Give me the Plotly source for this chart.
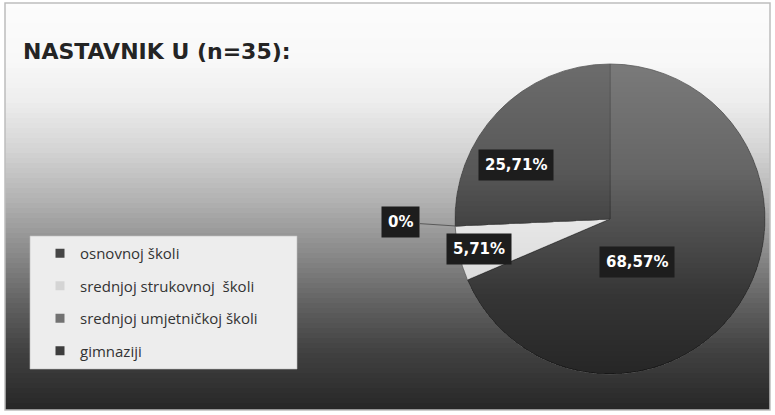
import numpy as np
import plotly.graph_objects as go

# ---------------- data ----------------
categories = ["osnovnoj školi", "srednjoj strukovnoj  školi",
              "srednjoj umjetničkoj školi", "gimnaziji"]
counts = [24, 2, 0, 9]          # n = 35
title_text = "NASTAVNIK U (n=35):"

# ---------------- style ----------------
slice_colors = ["#7a7a7a", "#f0f0f0", "#8a8a8a", "#6c6c6c"]
legend_colors = ["#454545", "#d4d4d4", "#727272", "#3d3d3d"]
shade_scale = [1.0, 0.18, 1.0, 1.0]       # darkening toward the bottom of the pie
shade_t = [0.0, 0.35, 0.75, 1.0]
shade_a = [0.0, 0.17, 0.50, 0.58]
label_rfrac = [0.50, 0.87, 1.35, 0.50]     # label distance (fraction of radius)

W, H = 775, 415
cx, cy, R = 610, 219, 155                  # pie centre / radius in pixels
FONT = "Open Sans"
BOLD_FONT = "DejaVu Sans"


def to_paper(x, y):
    return x / W, 1 - y / H


fig = go.Figure()

fig.add_trace(go.Pie(
    labels=categories, values=counts, sort=False, direction="clockwise",
    rotation=0, textinfo="none", showlegend=False,
    marker=dict(colors=slice_colors, line=dict(color="#5c5c5c", width=0.8)),
    domain=dict(x=[(cx - R) / W, (cx + R) / W],
                y=[1 - (cy + R) / H, 1 - (cy - R) / H]),
    hoverinfo="label+percent",
))

# legend entries (one group each so that the group gap gives the spacing)
for name, col in zip(categories, legend_colors):
    fig.add_trace(go.Scatter(
        x=[None], y=[None], mode="markers", name=name, legendgroup=name,
        marker=dict(symbol="square", size=9, color=col),
        hoverinfo="skip"))

shapes = []

# background gradient inside the frame
stops_y = [0, 60, 100, 150, 200, 250, 300, 350, 415]
stops_v = [252, 248, 238, 212, 178, 140, 100, 66, 36]
fx0, fy0, fx1, fy1 = 5, 3, 770, 410
step = 5
for y in range(fy0, fy1, step):
    v = int(round(np.interp(y + step / 2, stops_y, stops_v)))
    xa, ya = to_paper(fx0, y)
    xb, yb = to_paper(fx1, min(y + step + 0.5, fy1))
    shapes.append(dict(type="rect", xref="paper", yref="paper", layer="below",
                       x0=xa, x1=xb, y0=ya, y1=yb, line=dict(width=0),
                       fillcolor=f"rgb({v},{v},{v})"))
# frame
xa, ya = to_paper(fx0, fy0)
xb, yb = to_paper(fx1, fy1)
shapes.append(dict(type="rect", xref="paper", yref="paper", layer="below",
                   x0=xa, x1=xb, y0=ya, y1=yb,
                   line=dict(color="#bdbdbd", width=1.5), fillcolor="rgba(0,0,0,0)"))
# legend box
xa, ya = to_paper(30, 236)
xb, yb = to_paper(297, 369)
shapes.append(dict(type="rect", xref="paper", yref="paper", layer="below",
                   x0=xa, x1=xb, y0=ya, y1=yb,
                   line=dict(color="rgba(190,190,190,0.6)", width=1),
                   fillcolor="#ededed"))

# slice geometry derived from the data
total = float(sum(counts))
fracs = [c / total for c in counts]
starts = np.concatenate([[0.0], np.cumsum(fracs)[:-1]]) * 360.0
ends = starts + np.array(fracs) * 360.0


def pt(angle_deg, r):
    a = np.radians(angle_deg)
    return cx + r * np.sin(a), cy - r * np.cos(a)


def clip(poly, yv):
    """keep the part of poly with y >= yv"""
    out = []
    n = len(poly)
    for i in range(n):
        P, Q = poly[i], poly[(i + 1) % n]
        inP, inQ = P[1] >= yv, Q[1] >= yv
        if inP:
            out.append(P)
        if inP != inQ:
            t = (yv - P[1]) / (Q[1] - P[1])
            out.append((P[0] + t * (Q[0] - P[0]), yv))
    return out


# vertical shading over each slice: stacked layers from a given height down
nb = 60
for i in range(len(counts)):
    if fracs[i] <= 0:
        continue
    nseg = max(2, int((ends[i] - starts[i]) / 1.0))
    arc = [pt(a, R) for a in np.linspace(starts[i], ends[i], nseg + 1)]
    poly = [(cx, cy)] + arc
    prev = 0.0
    for b in range(1, nb + 1):
        ytop = cy - R + 2 * R * (b - 0.5) / nb
        target = shade_scale[i] * float(np.interp(b / nb, shade_t, shade_a))
        d = 1 - (1 - target) / (1 - prev)
        prev = target
        p = clip(poly, ytop)
        if len(p) < 3 or d <= 0:
            continue
        path = "M " + " L ".join(
            "{:.5f},{:.5f}".format(*to_paper(x, y)) for x, y in p) + " Z"
        shapes.append(dict(type="path", xref="paper", yref="paper", layer="above",
                           path=path, line=dict(width=0),
                           fillcolor=f"rgba(0,0,0,{d:.4f})"))

# percentage labels
annotations = []
for i, c in enumerate(counts):
    p = 100.0 * c / total
    txt = "0%" if c == 0 else f"{p:.2f}".replace(".", ",") + "%"
    font = dict(family=BOLD_FONT, size=15, color="white", weight="bold")
    if c == 0:
        ex, ey = pt(starts[i], R)
        lx, ly = pt(starts[i], R * label_rfrac[i])
        x, y = to_paper(ex, ey)
        annotations.append(dict(x=x, y=y, xref="paper", yref="paper",
                                text=txt, showarrow=True, arrowhead=0,
                                arrowwidth=1, arrowcolor="#5a5a5a",
                                ax=lx - ex, ay=ly - ey - 6, standoff=0,
                                bgcolor="#1d1d1d", borderpad=6, font=font))
    else:
        mid = (starts[i] + ends[i]) / 2
        lx, ly = pt(mid, R * label_rfrac[i])
        x, y = to_paper(lx, ly)
        annotations.append(dict(x=x, y=y, xref="paper", yref="paper",
                                text=txt, showarrow=False,
                                bgcolor="#1d1d1d", borderpad=6, font=font))

fig.update_layout(
    width=W, height=H,
    margin=dict(l=0, r=0, t=0, b=0),
    paper_bgcolor="white", plot_bgcolor="rgba(0,0,0,0)",
    xaxis=dict(visible=False), yaxis=dict(visible=False),
    title=dict(text=title_text, x=23 / W, xanchor="left",
               y=1 - 51 / H, yanchor="middle", yref="container",
               font=dict(family=BOLD_FONT, size=22, color="#242424", weight="bold")),
    showlegend=True,
    legend=dict(x=40 / W, xanchor="left", y=1 - 237 / H, yanchor="top",
                bgcolor="rgba(0,0,0,0)", tracegroupgap=10,
                font=dict(family=FONT, size=15, color="#333333")),
    shapes=shapes,
    annotations=annotations,
)

fig.write_html("out.html", config={"displayModeBar": False},
               post_script="document.body.style.margin='0';"
                           "document.body.style.overflow='hidden';")
